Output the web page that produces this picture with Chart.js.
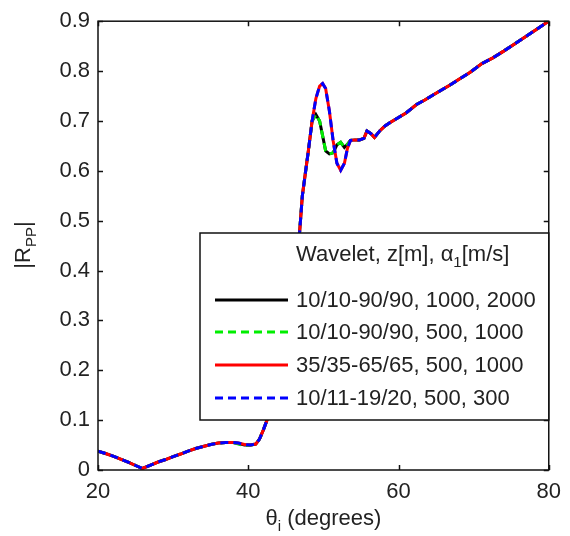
<!DOCTYPE html>
<html><head><meta charset="utf-8">
<script src="https://cdn.jsdelivr.net/npm/chart.js@4.4.0/dist/chart.umd.min.js"></script>
<style>html,body{margin:0;padding:0;background:#fff;}#wrap{width:570px;height:536px;}</style>
</head><body><div id="wrap"><canvas id="c" width="570" height="536"></canvas></div>
<script>
const theta = [20,21,22,23,24,25,25.9,27,28,29,30,31,32,33,34,35,36,37,38,38.7,39.5,40.3,41,41.5,42,42.5,43,44,45,46,46.8,47.2,47.6,48,48.5,49,49.5,49.9,50.3,50.8,51.3,51.8,52.3,52.8,53.2,53.6,54.2,54.8,55.4,55.8,56.3,56.8,57.5,58.2,59,60,61,62.4,63.5,64.6,65.5,66.75,68,69.5,71.1,72.5,74,75.5,77,78.5,80];
const rBlack = [0.038,0.033,0.028,0.022,0.016,0.009,0.003,0.010,0.016,0.021,0.027,0.032,0.038,0.043,0.047,0.051,0.054,0.055,0.055,0.053,0.050,0.050,0.052,0.062,0.080,0.100,0.130,0.200,0.290,0.390,0.470,0.550,0.595,0.640,0.700,
  0.713,0.700,0.670,0.640,0.634,0.636,0.652,0.657,0.647,0.653,0.661,0.662,0.662,0.665,0.680,0.675,0.667,0.680,0.690,0.698,0.707,0.716,0.733,0.742,0.752,0.760,0.771,0.783,0.797,0.815,0.826,0.840,0.855,0.870,0.885,0.900];
const rGreen = [0.038,0.033,0.028,0.022,0.016,0.009,0.003,0.010,0.016,0.021,0.027,0.032,0.038,0.043,0.047,0.051,0.054,0.055,0.055,0.052,0.049,0.050,0.052,0.062,0.080,0.100,0.130,0.200,0.290,0.390,0.470,0.550,0.595,0.640,0.700,
  0.713,0.700,0.670,0.640,0.634,0.636,0.652,0.657,0.647,0.653,0.661,0.662,0.662,0.665,0.680,0.675,0.667,0.680,0.690,0.698,0.707,0.716,0.733,0.742,0.752,0.760,0.771,0.783,0.797,0.815,0.826,0.840,0.855,0.870,0.885,0.900];
const rRed = [0.038,0.033,0.028,0.022,0.016,0.009,0.003,0.010,0.016,0.021,0.027,0.032,0.038,0.043,0.047,0.051,0.054,0.055,0.055,0.054,0.051,0.050,0.052,0.062,0.080,0.100,0.130,0.200,0.290,0.390,0.470,0.550,0.595,0.640,0.700,
  0.745,0.770,0.775,0.765,0.720,0.660,0.615,0.601,0.615,0.645,0.661,0.662,0.662,0.665,0.680,0.675,0.667,0.680,0.690,0.698,0.707,0.716,0.733,0.742,0.752,0.760,0.771,0.783,0.797,0.815,0.826,0.840,0.855,0.870,0.885,0.900];
const rBlue = [0.038,0.033,0.028,0.022,0.016,0.009,0.003,0.010,0.016,0.021,0.027,0.032,0.038,0.043,0.047,0.051,0.054,0.055,0.055,0.054,0.051,0.050,0.052,0.062,0.080,0.100,0.130,0.200,0.290,0.390,0.470,0.550,0.595,0.640,0.700,
  0.745,0.770,0.775,0.765,0.720,0.660,0.615,0.601,0.615,0.645,0.661,0.662,0.662,0.665,0.680,0.675,0.667,0.680,0.690,0.698,0.707,0.716,0.733,0.742,0.752,0.760,0.771,0.783,0.797,0.815,0.826,0.840,0.855,0.870,0.885,0.900];
const seriesLabels = ["10/10-90/90, 1000, 2000","10/10-90/90, 500, 1000","35/35-65/65, 500, 1000","10/11-19/20, 500, 300"];
const xTicks = [20,40,60,80];
const yTicks = [0,0.1,0.2,0.3,0.4,0.5,0.6,0.7,0.8,0.9];

const FONT = '"Liberation Sans", Arial, sans-serif';
const toXY = arr => arr.map((v,i)=>({x:theta[i], y:v}));

function drawSub(ctx, parts, x, y, align){
  const big = '22px '+FONT, small = '15px '+FONT;
  let w = 0;
  parts.forEach(p=>{ctx.font = p.sub?small:big; w += ctx.measureText(p.t).width;});
  let cx = align==='center' ? x - w/2 : x;
  parts.forEach(p=>{
    ctx.font = p.sub?small:big;
    ctx.fillText(p.t, cx, p.sub ? y+6 : y);
    cx += ctx.measureText(p.t).width;
  });
}

const decor = {
  id:'decor',
  afterDatasetsDraw(chart){
    const {ctx, chartArea:a, scales:{x,y}} = chart;
    ctx.save();
    ctx.strokeStyle='#111'; ctx.lineWidth=1.5;
    ctx.strokeRect(a.left, a.top, a.right-a.left, a.bottom-a.top);
    ctx.beginPath();
    x.ticks.forEach(t=>{const px=Math.round(x.getPixelForValue(t.value))+0.5;
      ctx.moveTo(px,a.bottom); ctx.lineTo(px,a.bottom-5);
      ctx.moveTo(px,a.top); ctx.lineTo(px,a.top+5);});
    y.ticks.forEach(t=>{const py=Math.round(y.getPixelForValue(t.value))+0.5;
      ctx.moveTo(a.left,py); ctx.lineTo(a.left+5,py);
      ctx.moveTo(a.right,py); ctx.lineTo(a.right-5,py);});
    ctx.stroke();

    const L = {l:200, t:233, r:a.right, b:420};
    ctx.fillStyle='#fff';
    ctx.fillRect(L.l, L.t, L.r-L.l, L.b-L.t);
    ctx.strokeStyle='#111'; ctx.lineWidth=1.5;
    ctx.strokeRect(L.l, L.t, L.r-L.l, L.b-L.t);
    ctx.fillStyle='#222'; ctx.textBaseline='alphabetic'; ctx.textAlign='left';
    drawSub(ctx,[{t:'Wavelet, z[m], α'},{t:'1',sub:true},{t:'[m/s]'}], 296, 261, 'left');
    const rows=[300,332,365,398];
    chart.data.datasets.forEach((ds,i)=>{
      ctx.save();
      ctx.strokeStyle=ds.borderColor; ctx.lineWidth=ds.borderWidth;
      ctx.setLineDash(ds.borderDash||[]);
      ctx.beginPath(); ctx.moveTo(215,rows[i]); ctx.lineTo(288,rows[i]); ctx.stroke();
      ctx.restore();
      ctx.fillStyle='#222'; ctx.font='22px '+FONT; ctx.textBaseline='middle';
      ctx.fillText(ds.label, 296, rows[i]+1);
    });

    ctx.fillStyle='#222'; ctx.textBaseline='alphabetic'; ctx.textAlign='left';
    drawSub(ctx,[{t:'θ'},{t:'i',sub:true},{t:' (degrees)'}], (a.left+a.right)/2, 525, 'center');
    ctx.save();
    ctx.translate(30, 245); ctx.rotate(-Math.PI/2);
    drawSub(ctx,[{t:'|R'},{t:'PP',sub:true},{t:'|'}], 0, 0, 'center');
    ctx.restore();
    ctx.restore();
  }
};

const common = {pointRadius:0, borderWidth:3, tension:0, fill:false};
new Chart(document.getElementById('c'), {
  type:'line',
  data:{datasets:[
    {...common, label:seriesLabels[0], data:toXY(rBlack), borderColor:'#000000', order:3},
    {...common, label:seriesLabels[1], data:toXY(rGreen), borderColor:'#00ee00', borderDash:[8,5], order:2},
    {...common, label:seriesLabels[2], data:toXY(rRed), borderColor:'#ff0000', order:1},
    {...common, label:seriesLabels[3], data:toXY(rBlue), borderColor:'#0000ff', borderDash:[8,5], order:0}
  ]},
  options:{
    responsive:false, animation:false, events:[],
    layout:{padding:{left:0,right:15,top:16,bottom:0}},
    plugins:{legend:{display:false}, tooltip:{enabled:false}},
    scales:{
      x:{type:'linear', min:20, max:80,
        afterBuildTicks:s=>{s.ticks = xTicks.map(v=>({value:v}));},
        afterFit:s=>{s.height=66;},
        grid:{display:false, drawTicks:false}, border:{display:false},
        ticks:{padding:9, color:'#222', font:{family:FONT, size:22}, maxRotation:0}},
      y:{type:'linear', min:0, max:0.9,
        afterBuildTicks:s=>{s.ticks = yTicks.map(v=>({value:v}));},
        afterFit:s=>{s.width=98;},
        grid:{display:false, drawTicks:false}, border:{display:false},
        ticks:{padding:8, color:'#222', font:{family:FONT, size:22}, callback:v=>String(Math.round(v*10)/10)}}
    }
  },
  plugins:[decor]
});
</script></body></html>
